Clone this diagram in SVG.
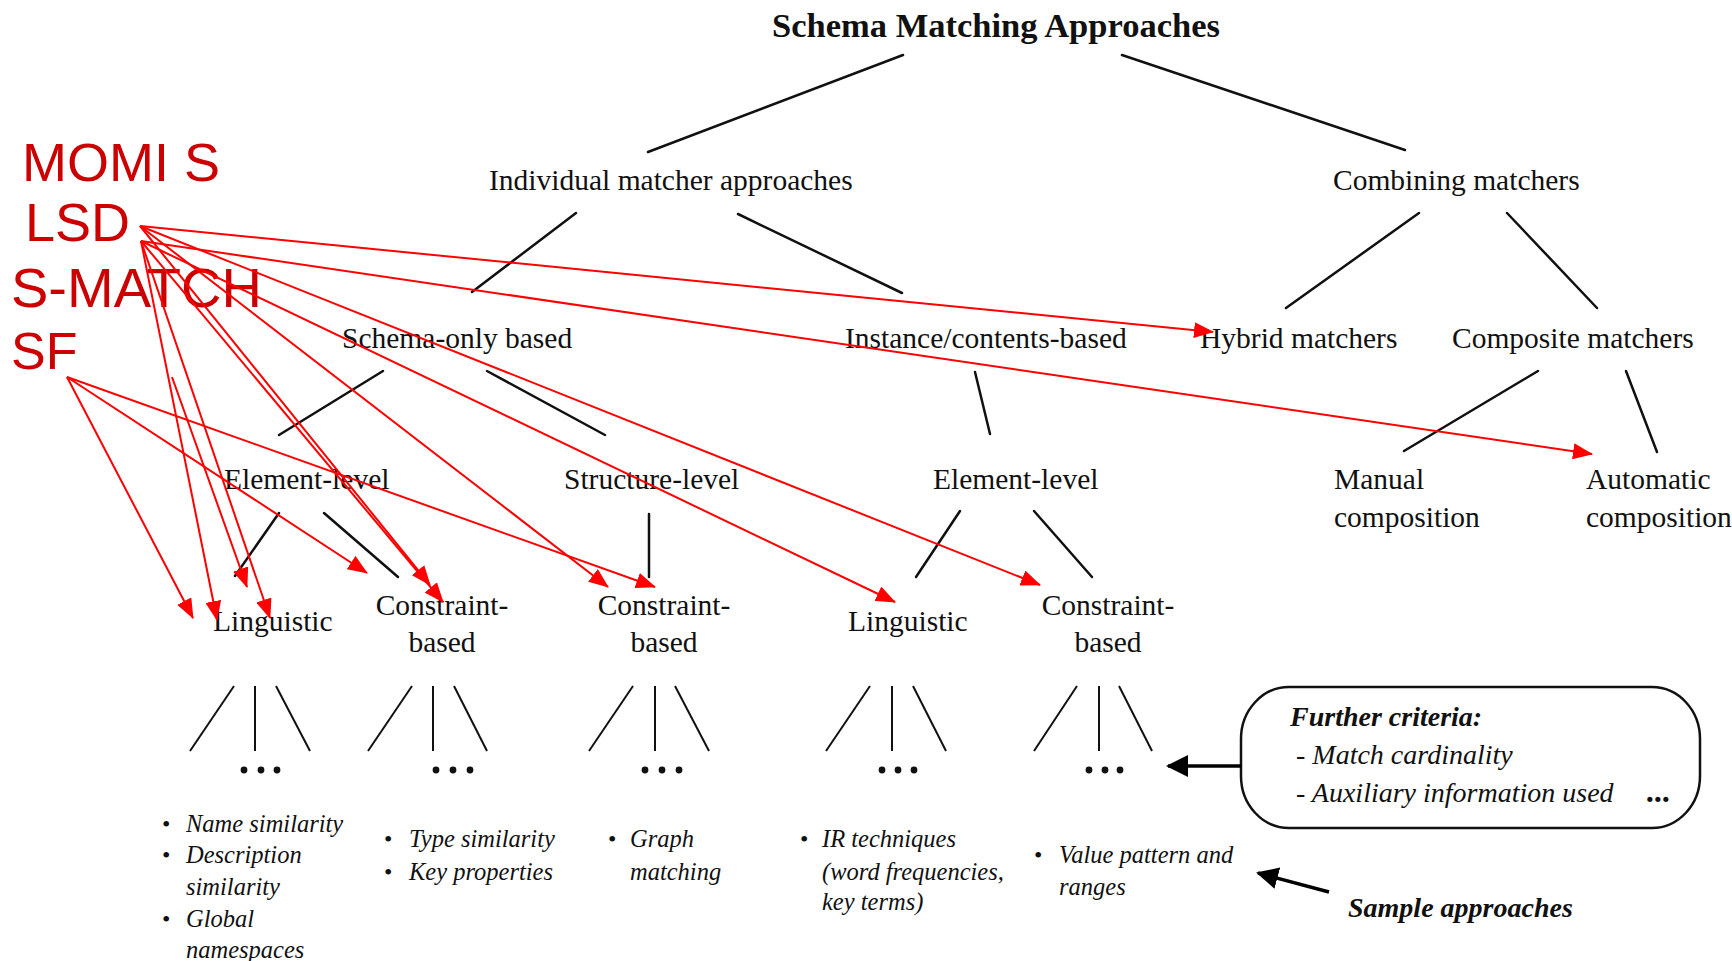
<svg xmlns="http://www.w3.org/2000/svg" width="1732" height="961" viewBox="0 0 1732 961">
  <defs>
    <style>
      .lbl { font-family: "Liberation Serif", "Times New Roman", serif; font-size: 29.5px; fill: #111; }
      .title { font-weight: bold; font-size: 34.5px; }
      .mid { text-anchor: middle; }
      .it { font-family: "Liberation Serif", "Times New Roman", serif; font-style: italic; font-size: 24.5px; fill: #111; }
      .bul { font-family: "Liberation Serif", "Times New Roman", serif; font-size: 24px; fill: #111; }
      .crit { font-family: "Liberation Serif", "Times New Roman", serif; font-style: italic; font-size: 28px; fill: #111; }
      .b { font-weight: bold; }
      .sys { font-family: "Liberation Sans", Arial, sans-serif; font-size: 54px; fill: #cc0000; }
      .tree { stroke: #111; stroke-width: 2.5; fill: none; stroke-linecap: round; }
      .fan { stroke: #111; stroke-width: 2; fill: none; }
      .ref { stroke: #ff0000; stroke-width: 2; fill: none; marker-end: url(#redHead); }
      .ptr { stroke: #000; stroke-width: 3.5; fill: none; marker-end: url(#blackHead); }
      .dot { fill: #111; }
    </style>
    <marker id="redHead" markerUnits="userSpaceOnUse" markerWidth="20" markerHeight="16" refX="19" refY="8" orient="auto">
      <path d="M0,0 L20,8 L0,16 z" fill="#ff0000"/>
    </marker>
    <marker id="blackHead" markerUnits="userSpaceOnUse" markerWidth="22" markerHeight="22" refX="20" refY="11" orient="auto">
      <path d="M0,0 L22,11 L0,22 z" fill="#000"/>
    </marker>
  </defs>

  <rect width="1732" height="961" fill="#fff"/>

  <!-- taxonomy tree edges -->
  <g id="tree-edges">
    <line class="tree" x1="903" y1="55" x2="648" y2="152"/>
    <line class="tree" x1="1122" y1="55" x2="1405" y2="150"/>
    <line class="tree" x1="576" y1="213" x2="472" y2="292"/>
    <line class="tree" x1="738" y1="214" x2="902" y2="293"/>
    <line class="tree" x1="1419" y1="213" x2="1286" y2="308"/>
    <line class="tree" x1="1507" y1="213" x2="1597" y2="308"/>
    <line class="tree" x1="383" y1="371" x2="279" y2="435"/>
    <line class="tree" x1="487" y1="371" x2="605" y2="435"/>
    <line class="tree" x1="975" y1="372" x2="990" y2="434"/>
    <line class="tree" x1="1538" y1="371" x2="1404" y2="451"/>
    <line class="tree" x1="1626" y1="371" x2="1657" y2="452"/>
    <line class="tree" x1="279" y1="513" x2="235" y2="576"/>
    <line class="tree" x1="324" y1="513" x2="398" y2="577"/>
    <line class="tree" x1="649" y1="514" x2="649" y2="577"/>
    <line class="tree" x1="960" y1="511" x2="916" y2="577"/>
    <line class="tree" x1="1034" y1="511" x2="1092" y2="577"/>
  </g>

  <!-- open-ended fans below the leaf categories -->
  <g id="fans">
    <line class="fan" x1="234" y1="686" x2="190" y2="751"/>
    <line class="fan" x1="255" y1="686" x2="255" y2="751"/>
    <line class="fan" x1="276" y1="686" x2="310" y2="751"/>
    <circle class="dot" cx="244" cy="770" r="3.4"/><circle class="dot" cx="261" cy="770" r="3.4"/><circle class="dot" cx="277" cy="770" r="3.4"/>

    <line class="fan" x1="412" y1="686" x2="368" y2="751"/>
    <line class="fan" x1="433" y1="686" x2="433" y2="751"/>
    <line class="fan" x1="454" y1="686" x2="487" y2="751"/>
    <circle class="dot" cx="436" cy="770" r="3.4"/><circle class="dot" cx="453" cy="770" r="3.4"/><circle class="dot" cx="470" cy="770" r="3.4"/>

    <line class="fan" x1="633" y1="686" x2="589" y2="751"/>
    <line class="fan" x1="655" y1="686" x2="655" y2="751"/>
    <line class="fan" x1="675" y1="686" x2="709" y2="751"/>
    <circle class="dot" cx="645" cy="770" r="3.4"/><circle class="dot" cx="662" cy="770" r="3.4"/><circle class="dot" cx="679" cy="770" r="3.4"/>

    <line class="fan" x1="870" y1="686" x2="826" y2="751"/>
    <line class="fan" x1="892" y1="686" x2="892" y2="751"/>
    <line class="fan" x1="913" y1="686" x2="946" y2="751"/>
    <circle class="dot" cx="882" cy="770" r="3.4"/><circle class="dot" cx="898" cy="770" r="3.4"/><circle class="dot" cx="914" cy="770" r="3.4"/>

    <line class="fan" x1="1077" y1="686" x2="1034" y2="751"/>
    <line class="fan" x1="1099" y1="686" x2="1099" y2="751"/>
    <line class="fan" x1="1119" y1="686" x2="1152" y2="751"/>
    <circle class="dot" cx="1089" cy="770" r="3.4"/><circle class="dot" cx="1105" cy="770" r="3.4"/><circle class="dot" cx="1120" cy="770" r="3.4"/>
  </g>

  <!-- category nodes -->
  <g id="n-root"><text class="lbl title mid" x="996" y="37">Schema Matching Approaches</text></g>
  <g id="n-individual"><text class="lbl" x="489" y="190">Individual matcher approaches</text></g>
  <g id="n-combining"><text class="lbl" x="1333" y="190">Combining matchers</text></g>
  <g id="n-schema-only"><text class="lbl" x="342" y="348">Schema-only based</text></g>
  <g id="n-instance"><text class="lbl" x="845" y="348">Instance/contents-based</text></g>
  <g id="n-hybrid"><text class="lbl" x="1200" y="348">Hybrid matchers</text></g>
  <g id="n-composite"><text class="lbl" x="1452" y="348">Composite matchers</text></g>
  <g id="n-element-schema"><text class="lbl" x="224" y="489">Element-level</text></g>
  <g id="n-structure"><text class="lbl" x="564" y="489">Structure-level</text></g>
  <g id="n-element-instance"><text class="lbl" x="933" y="489">Element-level</text></g>
  <g id="n-manual"><text class="lbl" x="1334" y="489">Manual</text><text class="lbl" x="1334" y="527">composition</text></g>
  <g id="n-automatic"><text class="lbl" x="1586" y="489">Automatic</text><text class="lbl" x="1586" y="527">composition</text></g>
  <g id="n-linguistic-schema"><text class="lbl" x="213" y="631">Linguistic</text></g>
  <g id="n-constraint-element"><text class="lbl mid" x="442" y="615">Constraint-</text><text class="lbl mid" x="442" y="652">based</text></g>
  <g id="n-constraint-structure"><text class="lbl mid" x="664" y="615">Constraint-</text><text class="lbl mid" x="664" y="652">based</text></g>
  <g id="n-linguistic-instance"><text class="lbl" x="848" y="631">Linguistic</text></g>
  <g id="n-constraint-instance"><text class="lbl mid" x="1108" y="615">Constraint-</text><text class="lbl mid" x="1108" y="652">based</text></g>

  <!-- sample approaches under each leaf -->
  <g id="s-linguistic-schema">
    <text class="bul" x="162" y="832">•</text><text class="it" x="186" y="832">Name similarity</text>
    <text class="bul" x="162" y="863">•</text><text class="it" x="186" y="863">Description</text>
    <text class="it" x="186" y="895">similarity</text>
    <text class="bul" x="162" y="927">•</text><text class="it" x="186" y="927">Global</text>
    <text class="it" x="186" y="958">namespaces</text>
  </g>
  <g id="s-constraint-element">
    <text class="bul" x="384" y="847">•</text><text class="it" x="409" y="847">Type similarity</text>
    <text class="bul" x="384" y="880">•</text><text class="it" x="409" y="880">Key properties</text>
  </g>
  <g id="s-constraint-structure">
    <text class="bul" x="608" y="847">•</text><text class="it" x="630" y="847">Graph</text>
    <text class="it" x="630" y="880">matching</text>
  </g>
  <g id="s-linguistic-instance">
    <text class="bul" x="800" y="847">•</text><text class="it" x="822" y="847">IR techniques</text>
    <text class="it" x="822" y="880">(word frequencies,</text>
    <text class="it" x="822" y="910">key terms)</text>
  </g>
  <g id="s-constraint-instance">
    <text class="bul" x="1034" y="863">•</text><text class="it" x="1059" y="863">Value pattern and</text>
    <text class="it" x="1059" y="895">ranges</text>
  </g>

  <!-- further criteria box -->
  <g id="n-criteria">
    <rect x="1241" y="687" width="459" height="141" rx="48" ry="52" fill="#fff" stroke="#111" stroke-width="2.5"/>
    <text class="crit b" x="1290" y="726">Further criteria:</text>
    <text class="crit" x="1296" y="764">- Match cardinality</text>
    <text class="crit" x="1296" y="802">- Auxiliary information used</text>
    <text class="crit b" x="1647" y="802" style="font-size:32px">...</text>
  </g>

  <g id="n-sample">
    <text class="crit b" x="1348" y="917">Sample approaches</text>
  </g>

  <!-- system names -->
  <g id="n-momis"><text class="sys" x="22" y="181">MOMI S</text></g>
  <g id="n-lsd"><text class="sys" x="25" y="241">LSD</text></g>
  <g id="n-smatch"><text class="sys" x="11" y="307" style="font-size:56px">S-MATCH</text></g>
  <g id="n-sf"><text class="sys" x="11" y="369" style="font-size:52px">SF</text></g>

  <!-- connectors -->
  <g id="connectors">
    <line class="ptr" x1="1241" y1="766" x2="1168" y2="766"/>
    <line class="ptr" x1="1329" y1="892" x2="1258" y2="873"/>

    <line class="ref" x1="140" y1="226" x2="1213" y2="332"/>
    <line class="ref" x1="141" y1="241" x2="1592" y2="454"/>
    <line class="ref" x1="67" y1="377" x2="193" y2="618"/>
    <line class="ref" x1="141" y1="241" x2="217" y2="620"/>
    <line class="ref" x1="172" y1="377" x2="247" y2="587"/>
    <line class="ref" x1="141" y1="241" x2="270" y2="618"/>
    <line class="ref" x1="67" y1="377" x2="367" y2="573"/>
    <line class="ref" x1="140" y1="226" x2="430" y2="585"/>
    <line class="ref" x1="141" y1="241" x2="443" y2="602"/>
    <line class="ref" x1="140" y1="226" x2="608" y2="587"/>
    <line class="ref" x1="67" y1="377" x2="655" y2="587"/>
    <line class="ref" x1="141" y1="241" x2="895" y2="602"/>
    <line class="ref" x1="140" y1="226" x2="1040" y2="585"/>
  </g>
</svg>
